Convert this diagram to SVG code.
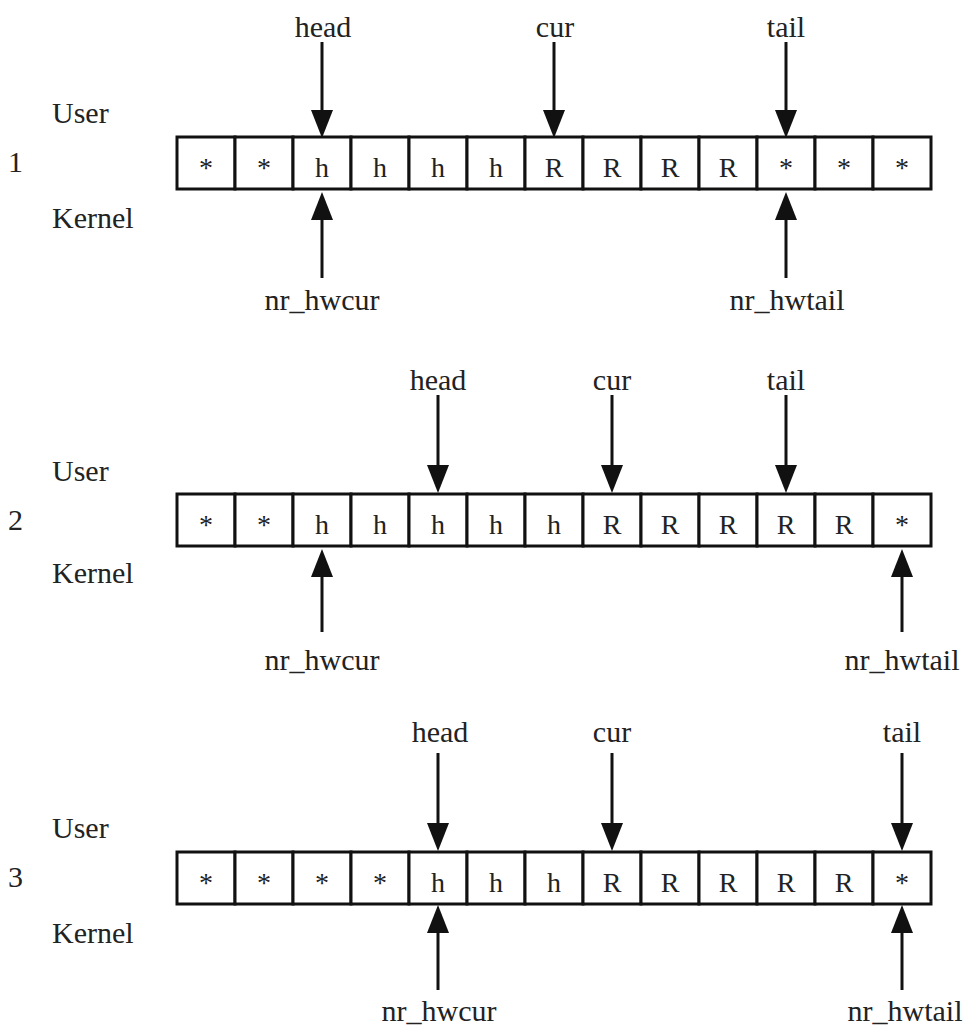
<svg xmlns="http://www.w3.org/2000/svg" width="966" height="1030" viewBox="0 0 966 1030" font-family="'Liberation Serif', 'Times New Roman', serif">
<defs>
<marker id="ah" markerUnits="userSpaceOnUse" markerWidth="28" markerHeight="22" viewBox="0 0 28 22" refX="1" refY="11" orient="auto">
<path d="M0,0 L28,11 L0,22 z" fill="#111"/>
</marker>
<style>
.lbl{font-family:'Liberation Serif','Times New Roman',serif;font-size:30px;fill:#222}
.mid{text-anchor:middle}
.cell rect{fill:#fff;stroke:#111;stroke-width:3}
.cell text{font-family:'Liberation Serif','Times New Roman',serif;font-size:28px;fill:#222;text-anchor:middle}
.conn line{stroke:#111;stroke-width:3;marker-end:url(#ah)}
</style>
</defs>
<rect width="966" height="1030" fill="#fff"/>

<!-- Row 1 -->
<g id="row1-side">
<text class="lbl" x="52" y="123">User</text>
<text class="lbl" x="8" y="172">1</text>
<text class="lbl" x="52" y="228">Kernel</text>
</g>
<g id="row1-buffer" class="cell">
<rect x="177" y="137" width="58" height="52"/><text x="206" y="177">*</text>
<rect x="235" y="137" width="58" height="52"/><text x="264" y="177">*</text>
<rect x="293" y="137" width="58" height="52"/><text x="322" y="177">h</text>
<rect x="351" y="137" width="58" height="52"/><text x="380" y="177">h</text>
<rect x="409" y="137" width="58" height="52"/><text x="438" y="177">h</text>
<rect x="467" y="137" width="58" height="52"/><text x="496" y="177">h</text>
<rect x="525" y="137" width="58" height="52"/><text x="554" y="177">R</text>
<rect x="583" y="137" width="58" height="52"/><text x="612" y="177">R</text>
<rect x="641" y="137" width="58" height="52"/><text x="670" y="177">R</text>
<rect x="699" y="137" width="58" height="52"/><text x="728" y="177">R</text>
<rect x="757" y="137" width="58" height="52"/><text x="786" y="177">*</text>
<rect x="815" y="137" width="58" height="52"/><text x="844" y="177">*</text>
<rect x="873" y="137" width="58" height="52"/><text x="902" y="177">*</text>
</g>
<g id="row1-labels">
<text class="lbl mid" x="323" y="37">head</text>
<text class="lbl mid" x="555" y="37">cur</text>
<text class="lbl mid" x="786" y="37">tail</text>
<text class="lbl mid" x="322" y="310">nr_hwcur</text>
<text class="lbl mid" x="787" y="310">nr_hwtail</text>
</g>

<!-- Row 2 -->
<g id="row2-side">
<text class="lbl" x="52" y="481">User</text>
<text class="lbl" x="8" y="530">2</text>
<text class="lbl" x="52" y="583">Kernel</text>
</g>
<g id="row2-buffer" class="cell">
<rect x="177" y="494" width="58" height="52"/><text x="206" y="534">*</text>
<rect x="235" y="494" width="58" height="52"/><text x="264" y="534">*</text>
<rect x="293" y="494" width="58" height="52"/><text x="322" y="534">h</text>
<rect x="351" y="494" width="58" height="52"/><text x="380" y="534">h</text>
<rect x="409" y="494" width="58" height="52"/><text x="438" y="534">h</text>
<rect x="467" y="494" width="58" height="52"/><text x="496" y="534">h</text>
<rect x="525" y="494" width="58" height="52"/><text x="554" y="534">h</text>
<rect x="583" y="494" width="58" height="52"/><text x="612" y="534">R</text>
<rect x="641" y="494" width="58" height="52"/><text x="670" y="534">R</text>
<rect x="699" y="494" width="58" height="52"/><text x="728" y="534">R</text>
<rect x="757" y="494" width="58" height="52"/><text x="786" y="534">R</text>
<rect x="815" y="494" width="58" height="52"/><text x="844" y="534">R</text>
<rect x="873" y="494" width="58" height="52"/><text x="902" y="534">*</text>
</g>
<g id="row2-labels">
<text class="lbl mid" x="438" y="390">head</text>
<text class="lbl mid" x="612" y="390">cur</text>
<text class="lbl mid" x="786" y="390">tail</text>
<text class="lbl mid" x="322" y="670">nr_hwcur</text>
<text class="lbl mid" x="902" y="670">nr_hwtail</text>
</g>

<!-- Row 3 -->
<g id="row3-side">
<text class="lbl" x="52" y="838">User</text>
<text class="lbl" x="8" y="887">3</text>
<text class="lbl" x="52" y="943">Kernel</text>
</g>
<g id="row3-buffer" class="cell">
<rect x="177" y="852" width="58" height="52"/><text x="206" y="892">*</text>
<rect x="235" y="852" width="58" height="52"/><text x="264" y="892">*</text>
<rect x="293" y="852" width="58" height="52"/><text x="322" y="892">*</text>
<rect x="351" y="852" width="58" height="52"/><text x="380" y="892">*</text>
<rect x="409" y="852" width="58" height="52"/><text x="438" y="892">h</text>
<rect x="467" y="852" width="58" height="52"/><text x="496" y="892">h</text>
<rect x="525" y="852" width="58" height="52"/><text x="554" y="892">h</text>
<rect x="583" y="852" width="58" height="52"/><text x="612" y="892">R</text>
<rect x="641" y="852" width="58" height="52"/><text x="670" y="892">R</text>
<rect x="699" y="852" width="58" height="52"/><text x="728" y="892">R</text>
<rect x="757" y="852" width="58" height="52"/><text x="786" y="892">R</text>
<rect x="815" y="852" width="58" height="52"/><text x="844" y="892">R</text>
<rect x="873" y="852" width="58" height="52"/><text x="902" y="892">*</text>
</g>
<g id="row3-labels">
<text class="lbl mid" x="440" y="742">head</text>
<text class="lbl mid" x="612" y="742">cur</text>
<text class="lbl mid" x="902" y="742">tail</text>
<text class="lbl mid" x="439" y="1021">nr_hwcur</text>
<text class="lbl mid" x="905" y="1021">nr_hwtail</text>
</g>

<g id="connectors" class="conn">
<line x1="322" y1="42" x2="322" y2="111"/>
<line x1="554" y1="42" x2="554" y2="111"/>
<line x1="786" y1="42" x2="786" y2="111"/>
<line x1="322" y1="278" x2="322" y2="219"/>
<line x1="786" y1="278" x2="786" y2="219"/>

<line x1="438" y1="395" x2="438" y2="466"/>
<line x1="612" y1="395" x2="612" y2="466"/>
<line x1="786" y1="395" x2="786" y2="466"/>
<line x1="322" y1="632" x2="322" y2="576"/>
<line x1="902" y1="632" x2="902" y2="576"/>

<line x1="438" y1="753" x2="438" y2="824"/>
<line x1="612" y1="753" x2="612" y2="824"/>
<line x1="902" y1="753" x2="902" y2="824"/>
<line x1="438" y1="990" x2="438" y2="932"/>
<line x1="902" y1="990" x2="902" y2="932"/>
</g>
</svg>
